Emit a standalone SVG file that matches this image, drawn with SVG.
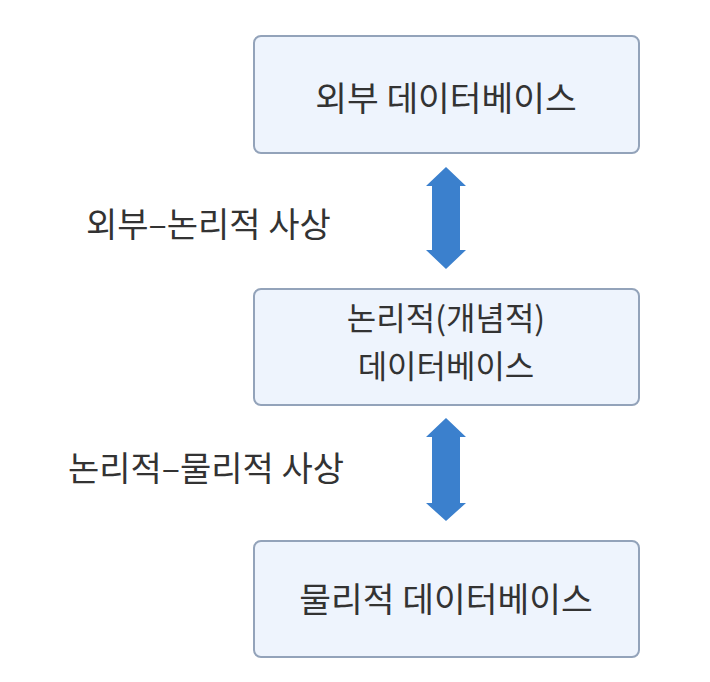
<svg xmlns="http://www.w3.org/2000/svg" width="710" height="682" viewBox="0 0 710 682">
<style>
.box{fill:#eef4fd;stroke:#93a3ba;stroke-width:2}
.t{font-family:"Noto Sans CJK KR","Noto Sans",sans-serif;font-size:34.5px;fill:#333;text-anchor:middle;dominant-baseline:central}
.l{font-family:"Noto Sans CJK KR","Noto Sans",sans-serif;font-size:34px;fill:#333;dominant-baseline:central}
.t2{font-size:32px}
.arr{fill:#3b80cd}
</style>
<rect width="710" height="682" fill="#fff"/>
<g id="node-external">
<rect class="box" x="254" y="36" width="385" height="117" rx="7"/>
<text class="t" x="446" y="96">외부 데이터베이스</text>
</g>
<g id="node-logical">
<rect class="box" x="254" y="289" width="385" height="116" rx="7"/>
<text class="t t2" x="446" y="316">논리적(개념적)</text>
<text class="t t2" x="446" y="364">데이터베이스</text>
</g>
<g id="node-physical">
<rect class="box" x="254" y="541" width="385" height="116" rx="7"/>
<text class="t" x="446" y="597">물리적 데이터베이스</text>
</g>
<g id="connectors">
<g id="map1">
<polygon class="arr" points="446,167 466,186 460,186 460,250 466,250 446,269 426,250 432,250 432,186 426,186"/>
<text class="l" x="86" y="222">외부–논리적 사상</text>
</g>
<g id="map2">
<polygon class="arr" points="446,418 466,437 460,437 460,503 466,503 446,521 426,503 432,503 432,437 426,437"/>
<text class="l" x="68" y="466">논리적–물리적 사상</text>
</g>
</g>
</svg>
